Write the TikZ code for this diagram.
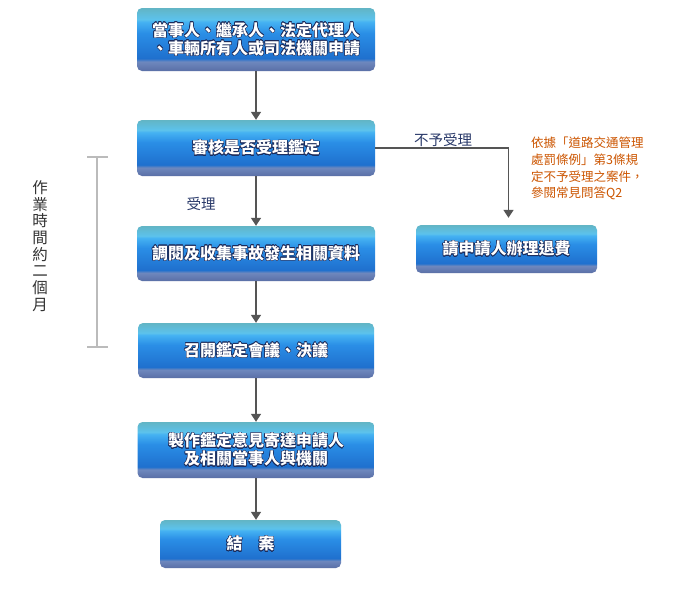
\documentclass[tikz,border=0pt]{standalone}
\usepackage{fontspec}
\usepackage{contour}
\usetikzlibrary{arrows.meta}
\newfontfamily\cjk{Noto Sans CJK TC}
\definecolor{boxbot}{HTML}{5A6FA6}
\definecolor{boxlow}{HTML}{6E88BE}
\definecolor{boxdeep}{HTML}{1F70CE}
\definecolor{boxmid}{HTML}{2A8EE6}
\definecolor{boxlight}{HTML}{45B2F2}
\definecolor{boxpale}{HTML}{5CC2EC}
\definecolor{boxtop}{HTML}{62B5C5}
\definecolor{boxline}{HTML}{1A2A5A}
\definecolor{arrowgray}{HTML}{555555}
\definecolor{bracketgray}{HTML}{BBBBBB}
\definecolor{labelnavy}{HTML}{2A3A6A}
\definecolor{noteorange}{HTML}{CC5500}
\pgfdeclareverticalshading{boxshade}{100bp}{color(0bp)=(boxbot); color(25bp)=(boxbot); color(32.5bp)=(boxlow); color(35bp)=(boxdeep); color(55bp)=(boxmid); color(64bp)=(boxlight); color(66bp)=(boxpale); color(75bp)=(boxtop); color(100bp)=(boxtop)}
\contourlength{0.5pt}
\newcommand{\boxtext}[1]{\contour{boxline}{#1}}
\tikzset{
  flowbox/.style={shade, shading=boxshade, rounded corners=5pt, minimum width=238pt,
    minimum height=56pt, inner sep=0pt, align=center, text=white,
    font=\cjk\bfseries\fontsize{16}{18}\selectfont},
  flowarrow/.style={draw=arrowgray, line width=1.5pt, -{Triangle[width=10pt,length=8pt]}},
  flowlabel/.style={text=labelnavy, font=\cjk\fontsize{14.5}{16}\selectfont, inner sep=0pt}
}
\begin{document}
\begin{tikzpicture}[x=1pt,y=-1pt]
    \useasboundingbox[fill=white] (0,0) rectangle (700,600);
    %Boxes
    \node[flowbox, minimum height=63pt] (apply) at (256,39.5)
      {\boxtext{當事人、繼承人、法定代理人}\\\boxtext{、車輛所有人或司法機關申請}};
    \node[flowbox] (review) at (256,148) {\boxtext{審核是否受理鑑定}};
    \node[flowbox, minimum height=55pt] (collect) at (256,253.5) {\boxtext{調閱及收集事故發生相關資料}};
    \node[flowbox, minimum width=236pt, minimum height=55pt] (meeting) at (256,350.5) {\boxtext{召開鑑定會議、決議}};
    \node[flowbox, minimum width=237pt] (report) at (256,450)
      {\boxtext{製作鑑定意見寄達申請人}\\\boxtext{及相關當事人與機關}};
    \node[flowbox, minimum width=181pt, minimum height=48pt] (close) at (250.5,544) {\boxtext{結\quad 案}};
    \node[flowbox, minimum width=181pt, minimum height=48pt] (refund) at (506.5,249) {\boxtext{請申請人辦理退費}};
    %Arrows
    \draw[flowarrow] (apply) -- (review);
    \draw[flowarrow] (review) -- (collect);
    \draw[flowarrow] (collect) -- (meeting);
    \draw[flowarrow] (meeting) -- (report);
    \draw[flowarrow] (report.south) -- (report.south |- close.north);
    \draw[flowarrow, shorten >=7pt] (review.east) -| ([xshift=2pt]refund.north);
    %Labels
    \node[flowlabel] (reject) at (443,140) {不予受理};
    \node[flowlabel] (accept) at (201,204) {受理};
    \node[anchor=north west, inner sep=0pt, align=left, text=noteorange,
      font=\cjk\fontsize{12.5}{16.7}\selectfont] (note) at (531,137)
      {依據「道路交通管理\\處罰條例」第3條規\\定不予受理之案件，\\參閱常見問答Q2};
    %Bracket
    \draw[bracketgray, line width=2pt] (97,157) -- (97,347)
      (87,157) -- (108,157) (87,347) -- (108,347);
    \node[align=center, inner sep=0pt, text=black!80, font=\cjk\fontsize{15.5}{16.7}\selectfont]
      (period) at (40,246) {作\\業\\時\\間\\約\\二\\個\\月};
\end{tikzpicture}
\end{document}
